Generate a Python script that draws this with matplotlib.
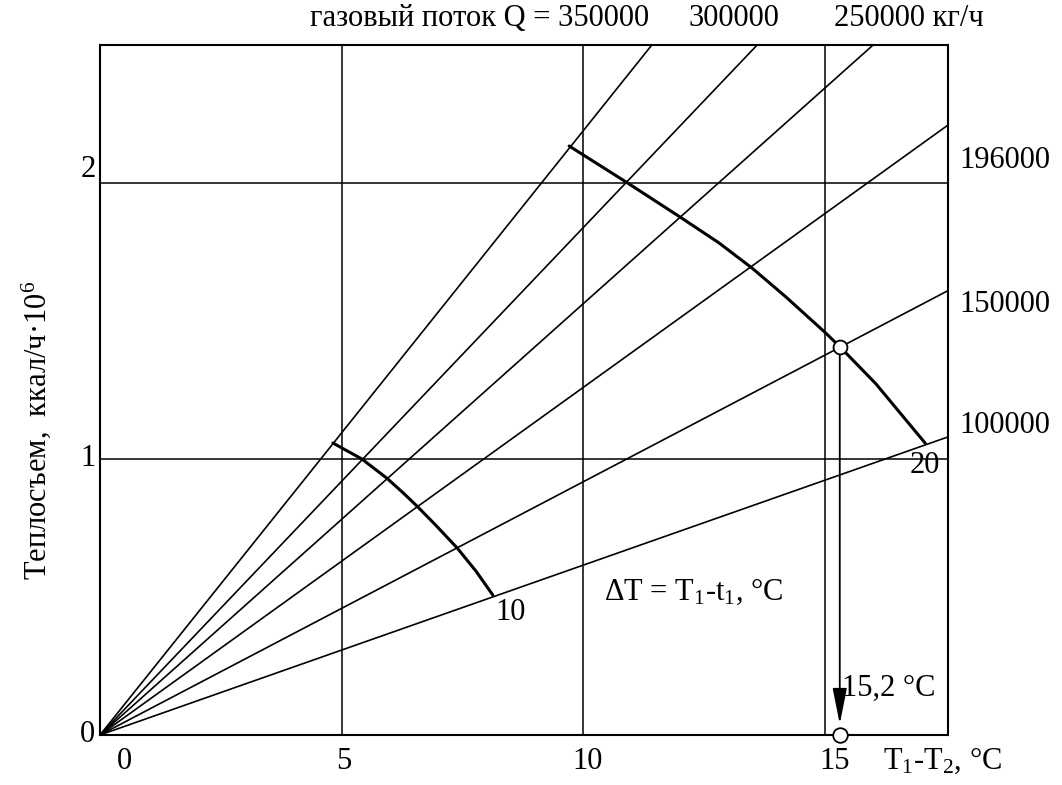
import numpy as np
import matplotlib
matplotlib.use('Agg')
import matplotlib.pyplot as plt

plt.rcParams['font.family'] = ['Liberation Serif', 'DejaVu Serif']
plt.rcParams['mathtext.fontset'] = 'custom'
plt.rcParams['mathtext.rm'] = 'Liberation Serif'
plt.rcParams['mathtext.it'] = 'Liberation Serif'

# gas flow lines from origin: end point
flows = ['350000', '300000', '250000', '196000', '150000', '100000']
flow_end_x = [11.42, 13.6, 16.0, 17.55, 17.55, 17.55]
flow_end_y = [2.5, 2.5, 2.5, 2.21, 1.61, 1.08]

# dT = 10 curve
arc10_x = [4.82, 5.42, 5.94, 6.27, 6.58, 6.96, 7.39, 7.78, 8.13]
arc10_y = [1.058, 1.0, 0.93, 0.878, 0.826, 0.758, 0.678, 0.594, 0.507]

# dT = 20 curve
arc20_x = [9.71, 10.92, 12.02, 12.81, 13.50, 14.19, 15.01, 15.31, 16.05, 17.08]
arc20_y = [2.134, 2.0, 1.875, 1.783, 1.691, 1.588, 1.458, 1.407, 1.274, 1.057]

point_x = 15.31
point_y = 1.407

xticks = [0, 5, 10, 15]
yticks = [0, 1, 2]

fig = plt.figure(figsize=(10.62, 7.85), dpi=100)
ax = fig.add_axes([100/1062, 50/785, 848/1062, 690/785])
ax.set_xlim(0, 17.55)
ax.set_ylim(0, 2.5)
ax.set_xticks([])
ax.set_yticks([])
for s in ax.spines.values():
    s.set_linewidth(1.5)

for v in [5, 10, 15]:
    ax.axvline(v, color='k', lw=1.1)
for v in [1, 2]:
    ax.axhline(v, color='k', lw=1.1)

for ex, ey in zip(flow_end_x, flow_end_y):
    ax.plot([0, ex], [0, ey], color='k', lw=1.2)

ax.plot(arc10_x, arc10_y, color='k', lw=2.2, solid_capstyle='round', solid_joinstyle='round')
ax.plot(arc20_x, arc20_y, color='k', lw=2.2, solid_capstyle='round', solid_joinstyle='round')

ax.annotate('', xy=(point_x, 0.04), xytext=(point_x, point_y),
            arrowprops=dict(arrowstyle='-|>,head_length=1.1,head_width=0.22',
                            color='k', lw=1.3, mutation_scale=20, shrinkA=0, shrinkB=0))
ax.plot([point_x], [point_y], 'o', ms=10, mfc='white', mec='k', mew=1.3, zorder=5)
ax.plot([point_x], [0], 'o', ms=10.5, mfc='white', mec='k', mew=1.3, zorder=5, clip_on=False)

fs = 22
ax.text(11.36, 2.595, 'газовый поток Q = ' + flows[0], ha='right', va='center', fontsize=fs)
ax.text(13.12, 2.595, flows[1], ha='center', va='center', fontsize=fs)
ax.text(15.2, 2.595, flows[2] + ' кг/ч', ha='left', va='center', fontsize=fs)
ax.text(17.78, 2.083, flows[3], ha='left', va='center', fontsize=fs)
ax.text(17.78, 1.558, flows[4], ha='left', va='center', fontsize=fs)
ax.text(17.78, 1.12, flows[5], ha='left', va='center', fontsize=fs)

ax.text(17.06, 0.975, '20', ha='center', va='center', fontsize=fs)
ax.text(8.49, 0.445, '10', ha='center', va='center', fontsize=fs)
ax.text(10.43, 0.52, r'ΔT = T$_1$-t$_1$, °C', ha='left', va='center', fontsize=fs)
ax.text(15.35, 0.17, '15,2 °C', ha='left', va='center', fontsize=fs)
ax.text(16.2, -0.095, r'T$_1$-T$_2$, °C', ha='left', va='center', fontsize=fs)

xlab_pos = [0.5, 5.05, 10.1, 15.2]
for p, t in zip(xlab_pos, xticks):
    ax.text(p, -0.095, str(t), ha='center', va='center', fontsize=fs)
ylab_pos = [0.0, 1.0, 2.05]
for p, t in zip(ylab_pos, yticks):
    ax.text(-0.25, p, str(t), ha='center', va='center', fontsize=fs)

ax.text(-1.32, 1.105, r'Теплосъем,  ккал/ч·10$^6$', rotation=90,
        ha='center', va='center', fontsize=fs)

fig.savefig('out.png', dpi=100)
